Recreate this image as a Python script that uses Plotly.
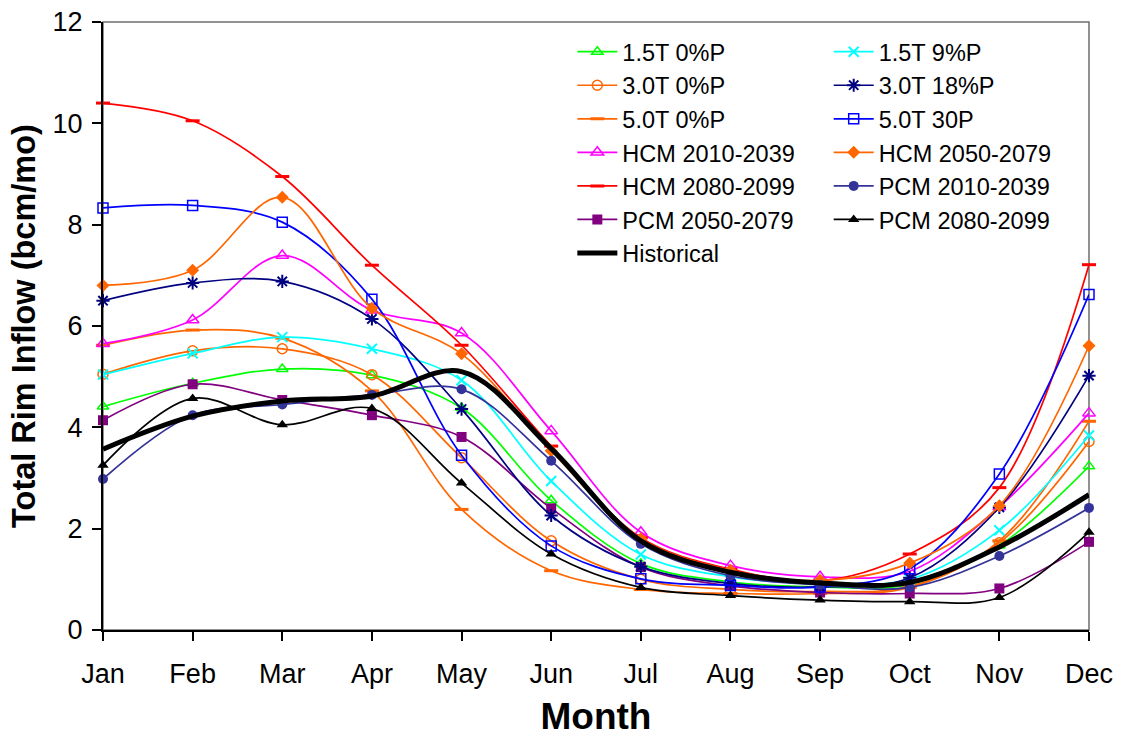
import plotly.graph_objects as go

months = ["Jan", "Feb", "Mar", "Apr", "May", "Jun", "Jul", "Aug", "Sep", "Oct", "Nov", "Dec"]

t15_p0 = [4.41, 4.87, 5.15, 5.03, 4.38, 2.56, 1.31, 0.95, 0.85, 0.90, 1.67, 3.23]
t15_p9 = [5.04, 5.46, 5.78, 5.55, 4.93, 2.94, 1.49, 1.05, 0.92, 1.00, 1.97, 3.84]
t30_p0 = [5.05, 5.51, 5.55, 5.04, 3.40, 1.76, 1.00, 0.80, 0.76, 0.86, 1.72, 3.72]
t30_p18 = [6.50, 6.85, 6.88, 6.14, 4.36, 2.26, 1.25, 0.92, 0.85, 1.03, 2.42, 5.02]
t50_p0 = [5.62, 5.92, 5.76, 4.72, 2.38, 1.17, 0.80, 0.72, 0.72, 0.84, 1.76, 4.12]
t50_p30 = [8.33, 8.38, 8.05, 6.53, 3.45, 1.66, 1.01, 0.88, 0.85, 1.21, 3.08, 6.62]
hcm_2010 = [5.65, 6.12, 7.39, 6.31, 5.86, 3.93, 1.93, 1.27, 1.05, 1.16, 2.43, 4.28]
hcm_2050 = [6.80, 7.10, 8.54, 6.35, 5.45, 3.54, 1.80, 1.18, 0.98, 1.32, 2.45, 5.61]
hcm_2080 = [10.40, 10.05, 8.95, 7.20, 5.62, 3.63, 1.82, 1.20, 0.97, 1.50, 2.81, 7.21]
pcm_2010 = [2.98, 4.24, 4.45, 4.64, 4.75, 3.34, 1.70, 1.07, 0.89, 0.84, 1.46, 2.41]
pcm_2050 = [4.14, 4.85, 4.54, 4.24, 3.81, 2.40, 1.24, 0.87, 0.74, 0.72, 0.82, 1.74]
pcm_2080 = [3.25, 4.57, 4.05, 4.37, 2.90, 1.50, 0.84, 0.68, 0.59, 0.56, 0.64, 1.93]
historical = [3.57, 4.22, 4.52, 4.62, 5.10, 3.58, 1.76, 1.14, 0.93, 0.94, 1.64, 2.67]

x = list(range(len(months)))

# (name, values, colour, marker symbol, marker size, marker line width, legend)
series = [
    ("1.5T 0%P", t15_p0, "#00FF00", "triangle-up-open", 10, 1.5, "legend"),
    ("3.0T 0%P", t30_p0, "#FF6600", "circle-open", 10, 1.5, "legend"),
    ("5.0T 0%P", t50_p0, "#FF6600", "line-ew", 10, 3, "legend"),
    ("HCM 2010-2039", hcm_2010, "#FF00FF", "triangle-up-open", 11, 1.5, "legend"),
    ("HCM 2080-2099", hcm_2080, "#FF0000", "line-ew", 10, 3, "legend"),
    ("PCM 2050-2079", pcm_2050, "#800080", "square", 10, 0, "legend"),
    ("1.5T 9%P", t15_p9, "#00FFFF", "x-thin-open", 10, 2, "legend2"),
    ("3.0T 18%P", t30_p18, "#000080", "asterisk-open", 11, 2, "legend2"),
    ("5.0T 30P", t50_p30, "#0000FF", "square-open", 10, 1.5, "legend2"),
    ("HCM 2050-2079", hcm_2050, "#FF6600", "diamond", 10, 0, "legend2"),
    ("PCM 2010-2039", pcm_2010, "#333399", "circle", 10, 0, "legend2"),
    ("PCM 2080-2099", pcm_2080, "#000000", "triangle-up", 10, 0, "legend2"),
]

fig = go.Figure()

for name, vals, color, sym, size, lw, leg in series:
    fig.add_trace(go.Scatter(
        x=x, y=vals, name=name, mode="lines+markers",
        line=dict(color=color, width=1.7, shape="spline", smoothing=1.0),
        marker=dict(symbol=sym, size=size, color=color,
                    line=dict(color=color, width=lw)),
        cliponaxis=False, legend=leg,
    ))

fig.add_trace(go.Scatter(
    x=x, y=historical, name="Historical", mode="lines",
    line=dict(color="#000000", width=5, shape="spline", smoothing=1.0),
    cliponaxis=False, legend="legend",
))

# Plot-area frame: grey top and right edges
fig.add_shape(type="rect", xref="paper", yref="paper", x0=0, y0=0, x1=1, y1=1,
              line=dict(color="#6e6e6e", width=1.5), layer="below")

font = "Liberation Sans, Arial, sans-serif"
legend_style = dict(font=dict(family=font, size=23.5, color="#000000"),
                    bgcolor="rgba(0,0,0,0)", borderwidth=0,
                    xanchor="left", yanchor="top", tracegroupgap=0,
                    itemwidth=40)

fig.update_layout(
    width=1126, height=737,
    margin=dict(l=103, r=37, t=22, b=107, autoexpand=False),
    paper_bgcolor="white", plot_bgcolor="white",
    font=dict(family=font, color="#000000"),
    legend=dict(x=0.476, y=0.987, **legend_style),
    legend2=dict(x=0.736, y=0.987, **legend_style),
    xaxis=dict(
        range=[0, 11], tickvals=x, ticktext=months,
        showgrid=False, zeroline=False, automargin=False,
        showline=True, linecolor="#000000", linewidth=2,
        ticks="outside", ticklen=9, tickwidth=1.5, tickcolor="#000000",
        tickfont=dict(size=27, family=font), ticklabelstandoff=10,
        title=dict(text="<b>Month</b>", font=dict(size=37, family=font), standoff=20),
    ),
    yaxis=dict(
        range=[0, 12], tickvals=[0, 2, 4, 6, 8, 10, 12],
        showgrid=False, zeroline=False, automargin=False,
        showline=True, linecolor="#000000", linewidth=2,
        ticks="outside", ticklen=9, tickwidth=1.5, tickcolor="#000000",
        tickfont=dict(size=27, family=font), ticklabelstandoff=4,
        title=dict(text="<b>Total Rim Inflow (bcm/mo)</b>", font=dict(size=32.5, family=font), standoff=7),
    ),
)

fig.write_html("out.html")
